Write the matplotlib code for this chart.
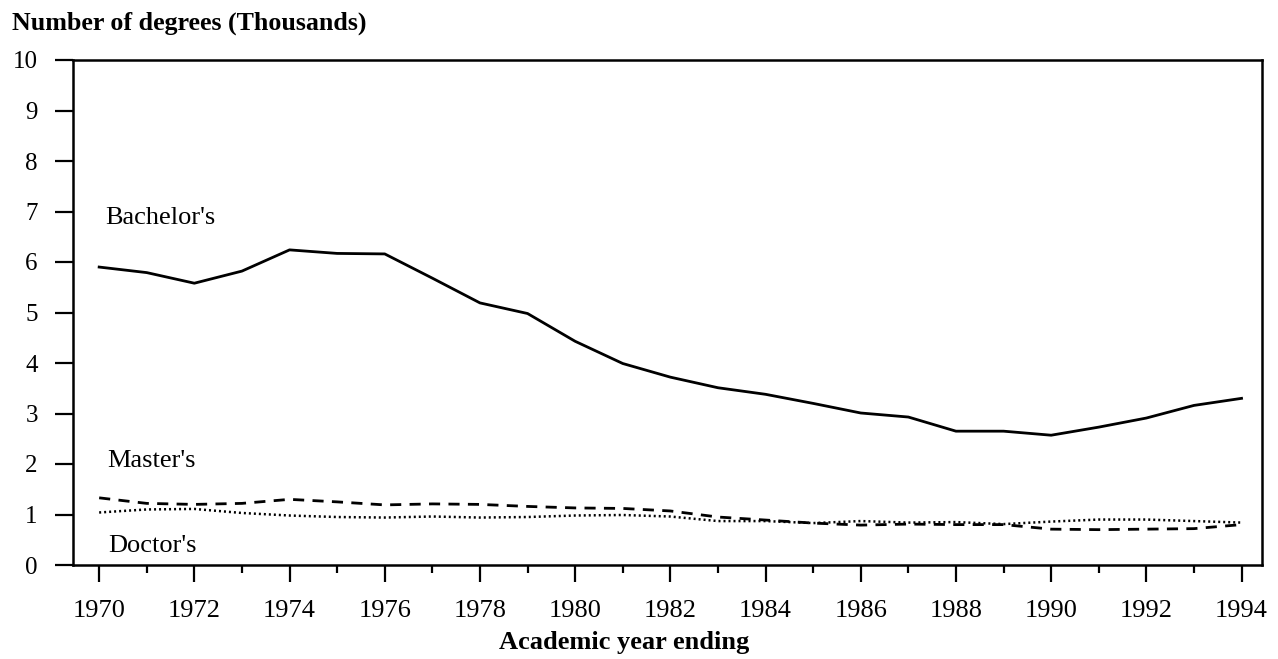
import matplotlib
matplotlib.use("Agg")
import matplotlib.pyplot as plt
from matplotlib.ticker import MultipleLocator

plt.rcParams['font.family'] = ['Liberation Serif', 'DejaVu Serif']

years = list(range(1970, 1995))
bachelors = [5.90, 5.79, 5.58, 5.82, 6.24, 6.17, 6.16, 5.68, 5.19, 4.98,
             4.43, 3.99, 3.72, 3.51, 3.38, 3.20, 3.01, 2.93, 2.65, 2.65,
             2.57, 2.73, 2.91, 3.16, 3.30]
masters = [1.33, 1.22, 1.20, 1.22, 1.30, 1.25, 1.19, 1.21, 1.20, 1.16,
           1.13, 1.12, 1.07, 0.95, 0.89, 0.83, 0.79, 0.81, 0.80, 0.80,
           0.71, 0.70, 0.71, 0.72, 0.80]
doctors = [1.04, 1.10, 1.11, 1.03, 0.98, 0.95, 0.94, 0.96, 0.94, 0.95,
           0.98, 0.99, 0.96, 0.87, 0.87, 0.83, 0.87, 0.84, 0.85, 0.81,
           0.86, 0.90, 0.90, 0.87, 0.84]
year_ticks = list(range(1970, 1995, 2))
y_ticks = list(range(0, 11))

fig = plt.figure(figsize=(12.78, 6.59), dpi=100)
ax = fig.add_axes([72.5 / 1278, 1 - 565 / 659, (1262 - 72.5) / 1278, 505 / 659])

ax.plot(years, bachelors, color='black', lw=2.0, solid_joinstyle='round')
ax.plot(years, masters, color='black', lw=2.0, linestyle=(0, (4, 3)))
ax.plot(years, doctors, color='black', lw=1.8, linestyle=(0, (0.8, 1.2)))

ax.text(1970.12, 6.88, "Bachelor's", fontsize=19, va='center', ha='left')
ax.text(1970.16, 2.06, "Master's", fontsize=19, va='center', ha='left')
ax.text(1970.2, 0.38, "Doctor's", fontsize=19, va='center', ha='left')

ax.set_xlim(1969.44, 1994.43)
ax.set_ylim(0, 10)
ax.set_xticks(year_ticks)
ax.set_xticklabels([str(y) for y in year_ticks], fontsize=19)
ax.xaxis.set_minor_locator(MultipleLocator(1))
ax.set_yticks(y_ticks)
ax.set_yticklabels([str(v) for v in y_ticks], fontsize=18)

ax.tick_params(axis='x', which='major', direction='out', length=12, width=1.6, pad=13)
ax.tick_params(axis='x', which='minor', direction='out', length=6, width=1.6)
ax.tick_params(axis='y', which='major', direction='out', length=13, width=1.6, pad=12)
for s in ax.spines.values():
    s.set_linewidth(1.8)

fig.text(12 / 1278, 1 - 23 / 659, "Number of degrees (Thousands)", fontsize=18.7,
         fontweight='bold', va='center', ha='left')
fig.text(624 / 1278, 1 - 643 / 659, "Academic year ending", fontsize=19,
         fontweight='bold', va='center', ha='center')

fig.savefig('out.png', dpi=100)
